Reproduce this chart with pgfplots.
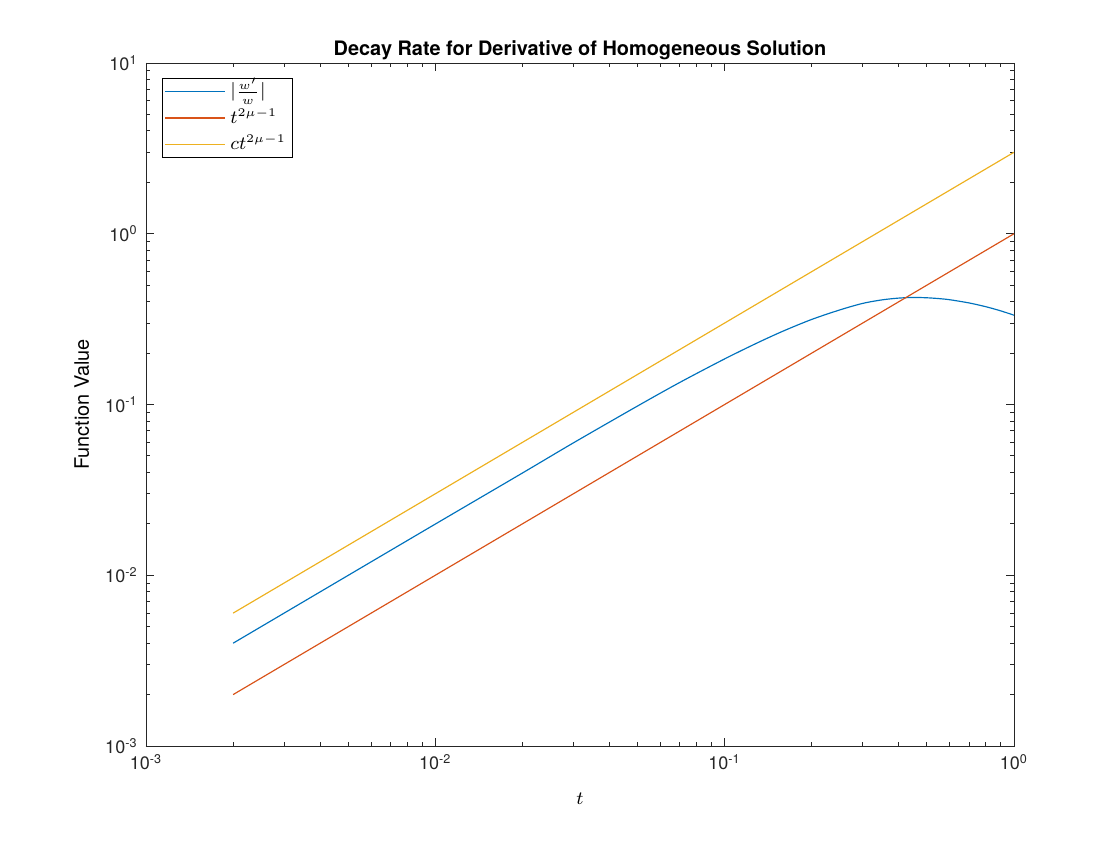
\documentclass[border=0pt]{standalone}
\usepackage{pgfplots}
\pgfplotsset{compat=1.18}
\usepackage{fontspec}
\setmainfont{TeX Gyre Heros}

\definecolor{mblue}{rgb}{0,0.447,0.741}
\definecolor{mred}{rgb}{0.85,0.325,0.098}
\definecolor{myellow}{rgb}{0.929,0.694,0.125}
\definecolor{mgray}{rgb}{0.15,0.15,0.15}

\begin{document}
\begin{tikzpicture}
\path[use as bounding box] (-2.19cm,-1.41cm) rectangle (14.61cm,11.19cm);
\begin{axis}[
    at={(0,0)}, anchor=south west,
    scale only axis,
    width=13.02cm, height=10.245cm,
    xmode=log, ymode=log,
    xmin=1e-3, xmax=1,
    ymin=1e-3, ymax=10,
    xtick={1e-3,1e-2,1e-1,1},
    xticklabels={10\textsuperscript{-3},10\textsuperscript{-2},10\textsuperscript{-1},10\textsuperscript{0}},
    ytick={1e-3,1e-2,1e-1,1,10},
    yticklabels={10\textsuperscript{-3},10\textsuperscript{-2},10\textsuperscript{-1},10\textsuperscript{0},10\textsuperscript{1}},
    ticklabel style={font=\fontsize{7.7}{9}\selectfont, text=mgray},
    tick align=inside,
    major tick length=3.4pt,
    minor tick length=1.7pt,
    tick style={mgray, line width=0.4pt},
    axis line style={mgray, line width=0.4pt},
    title={\bfseries Decay Rate for Derivative of Homogeneous Solution},
    title style={font=\fontsize{8.5}{10}\selectfont, yshift=-8pt},
    xlabel={$t$},
    ylabel={Function Value},
    label style={font=\fontsize{8.5}{10}\selectfont},
    xlabel style={yshift=-3pt},
    legend style={at={(0.0184,0.978)}, anchor=north west,
        draw=black, line width=0.4pt, font=\fontsize{7.8}{8}\selectfont,
        inner sep=0.8pt, row sep=1.5pt,
        nodes={text height=7pt, text depth=2.7pt, inner ysep=0pt}},
    legend cell align=left,
    legend image code/.code={\draw[line width=0.6pt,#1] (0cm,0cm) -- (0.9cm,0cm);},
]
\addplot[mblue, line width=0.5pt, smooth] coordinates {
    (0.002,0.004) (0.005,0.00999) (0.01,0.01995) (0.02,0.0397) (0.03,0.0596)
    (0.05,0.098) (0.07,0.1347) (0.1,0.185) (0.13,0.230) (0.16,0.270)
    (0.2,0.315) (0.25,0.358) (0.3,0.391) (0.35,0.410) (0.4,0.420)
    (0.45,0.4235) (0.5,0.4217) (0.55,0.4171) (0.6,0.4107) (0.7,0.3933)
    (0.8,0.3737) (0.9,0.3535) (1.0,0.3334)
};
\addlegendentry{$|\frac{w'}{w}|$}
\addplot[mred, line width=0.5pt] coordinates {(0.002,0.002) (1,1)};
\addlegendentry{$t^{2\mu-1}$}
\addplot[myellow, line width=0.5pt] coordinates {(0.002,0.006) (1,3)};
\addlegendentry{$ct^{2\mu-1}$}
\end{axis}
\end{tikzpicture}
\end{document}
